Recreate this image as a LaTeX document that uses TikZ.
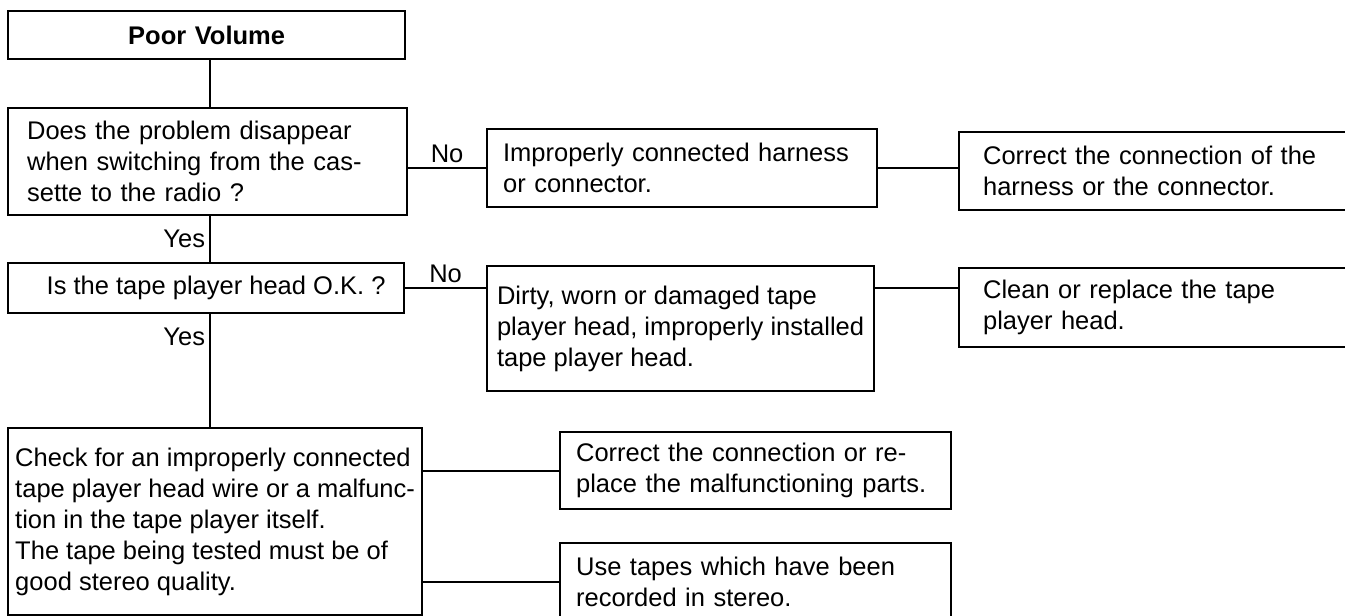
\documentclass[tikz,border=0pt]{standalone}
\usepackage{fontspec}
\setmainfont{Liberation Sans}
\usetikzlibrary{positioning,calc}
\tikzset{
 box/.style={draw,line width=2.2pt,anchor=north west,align=left,inner ysep=0pt,font=\fontsize{25.5}{31}\selectfont},
 lbl/.style={font=\fontsize{25.5}{31}\selectfont,inner sep=4pt},
 wire/.style={line width=2pt}}

\begin{document}
\begin{tikzpicture}[x=1pt,y=-1pt]
\clip (0,0) rectangle (1345,616);
\coordinate (spine) at (210,0);

\node[box,align=center,text width=377pt,inner xsep=10pt,minimum height=48pt,font=\fontsize{25.5}{31}\selectfont\bfseries] (start) at (7,10) {Poor Volume};
\node[box,text width=361pt,inner xsep=19pt,minimum height=107pt] (q1) at (7,107) {Does the problem disappear\\when switching from the cas-\\sette to the radio ?};
\node[box,text width=358pt,inner xsep=16pt,minimum height=78pt] (a1) at (486,128) {Improperly connected harness\\or connector.};
\node[box,text width=372pt,inner xsep=24pt,minimum height=78pt] (a1b) at (958,131) {Correct the connection of the\\harness or the connector.};

\node[box,inner xsep=0pt,minimum width=396pt,minimum height=50pt] (q2) at (7,262) {\hspace*{20pt}Is the tape player head O.K. ?};
\node[box,inner xsep=0pt,minimum width=387pt,minimum height=125pt] (a2) at (486,265) {Dirty, worn or damaged tape\\player head, improperly installed\\tape player head.};
\node[box,text width=372pt,inner xsep=24pt,minimum height=79pt] (a2b) at (958,267) {Clean or replace the tape\\player head.};

\node[box,inner xsep=0pt,minimum width=414pt,minimum height=187pt] (q3) at (7,427) {Check for an improperly connected\\tape player head wire or a malfunc-\\tion in the tape player itself.\\The tape being tested must be of\\good stereo quality.};
\node[box,text width=359pt,inner xsep=16pt,minimum height=77pt] (b1) at (559,431) {Correct the connection or re-\\place the malfunctioning parts.};
\node[box,text width=359pt,inner xsep=16pt,minimum height=78pt] (b2) at (559,542) {Use tapes which have been\\recorded in stereo.};

% main line
\draw[wire] (start.south -| spine) -- (q1.north -| spine);
\draw[wire] (q1.south -| spine) -- node[lbl,left,midway] {Yes} (q2.north -| spine);
\draw[wire] (q2.south -| spine) -- node[lbl,left,pos=0.2] {Yes} (q3.north -| spine);

% branches
\draw[wire] (q1.east |- a1.west) -- node[lbl,above] {No} (a1.west);
\draw[wire] (a1.east) -- (a1.east -| a1b.west);
\draw[wire] (q2.east) -- node[lbl,above] {No} (q2.east -| a2.west);
\draw[wire] (q2.east -| a2.east) -- (q2.east -| a2b.west);
\draw[wire] (b1.west -| q3.east) -- (b1.west);
\draw[wire] (b2.west -| q3.east) -- (b2.west);
\end{tikzpicture}
\end{document}
